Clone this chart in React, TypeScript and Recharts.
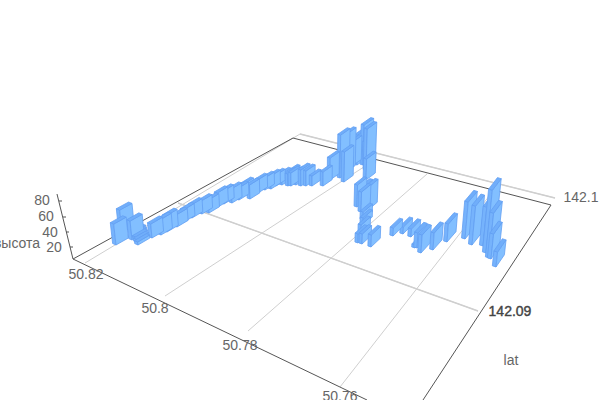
import React from "react";
import { ScatterChart, Scatter, XAxis, YAxis, ReferenceLine } from "recharts";

// Base corner position of each bar on the floor, and its height, in picture units.
const barX = [122,116,132,134,135,136,137,138,152,161,167,177,184,192,202,209,218,224,232,239,244,250,258,265,271,276,282,288,291,291,296,301,306,312,323,330,340,346,344,352,357,363,366,365,366,357,361,363,368,363,363,361,358,362,371,393,403,411,415,417,421,433,447,465,472,483,486,489,491,496];
const barBase = [232,245,240,235,237.5,240,242.5,245,238,235,232,227,222,218,214,213,207,204,203,200,196,199,193,190,189,186,185,186,181,186,185,186,186,186,186,180,178,172,182,166,165,165,170,165,180,207,212,205,210,220,225,233,243,244,247,236,234,237,248,248,253,250,242,239,245,246,253,258,259,267];
const barHeight = [22,21,19,3,3,3,3,3,14,15,16,12,12,13,13,13,14,13,14,12,12,14,13,12,13,11,11,12,10,13,12,16,15,10,14,22,43,38,30,24,30,40,41,23,21,22,20,18,23,8,7,8,9,10,12,8,7,8,3,15,18,17,18,37,39,39,63,45,25,15];

// Frame and grid of the floor
const darkEdges = [[73,259,293,138],[293,138,551,205],[551,205,423,400],[73,259,367,400],[57,194,73,259],[59,201,62,201],[63,217,66,217],[66,232,69,232],[70,247,73,247]];
const lightLines = [[85,263,300,134],[165,296,373,161],[248,331,427,174],[340,387,497,186],[178,203,478,311],[300,134,555,198]];
const heavyLines = [[178,203,478,311],[300,134,555,198]];

const labelText = ["80","60","40","20","высота","50.82","50.8","50.78","50.76","142.09","142.1","lat"];
const labelX = [42,46,50,54,17,86,155,240,340,510,581,511];
const labelY = [200,216,232,247,243,274,308,345,396,311,197,360];

const latVP = [763,-121];
const lonVP = [-737,-130];
const upVP = [310,2000];

type P = [number, number];
const toward = (p: P, vp: number[], d: number): P => {
  const dx = vp[0] - p[0];
  const dy = vp[1] - p[1];
  const l = Math.hypot(dx, dy);
  return [p[0] + (dx / l) * d, p[1] + (dy / l) * d];
};
const pts = (a: P[]) => a.map((p) => p.join(",")).join(" ");

const bars = barX
  .map((x, i) => ({ x, y: barBase[i], h: barHeight[i] }))
  .sort((a, b) => a.y - b.y);
const labels = labelText.map((t, i) => ({ x: labelX[i], y: labelY[i], t }));

const EDGE = "#639ff3";

const BarBox = (props: any) => {
  const { cx, cy, payload } = props;
  const F: P = [cx, cy];
  const dist = Math.hypot(cx - 293, cy - 138);
  const long = 10 + 0.02 * dist;
  const narrow = long * 0.26;
  const R = toward(F, latVP, long);
  const L = toward(F, lonVP, narrow);
  const B = toward(R, lonVP, narrow);
  const up = (p: P) => toward(p, upVP, -payload.h);
  const common = { stroke: EDGE, strokeWidth: 0.8, strokeLinejoin: "round" as const };
  return (
    <g>
      <polygon points={pts([L, F, up(F), up(L)])} fill="#76b3fc" {...common} />
      <polygon points={pts([F, R, up(R), up(F)])} fill="#82bfff" {...common} />
      <polygon points={pts([up(L), up(F), up(R), up(B)])} fill="#70aefa" {...common} />
    </g>
  );
};

const AxisLabel = (props: any) => {
  const { cx, cy, payload } = props;
  const heavy = payload.t === "142.09";
  return (
    <text
      x={cx}
      y={cy}
      textAnchor="middle"
      dominantBaseline="central"
      fontFamily="Liberation Sans, Arial, sans-serif"
      fontSize={14}
      fill={heavy ? "#444" : "#666"}
      stroke={heavy ? "#444" : "none"}
      strokeWidth={heavy ? 0.4 : 0}
    >
      {payload.t}
    </text>
  );
};

const seg = (l: number[]) =>
  [
    { x: l[0], y: l[1] },
    { x: l[2], y: l[3] },
  ] as any;

export default function App() {
  return (
    <div style={{ position: "absolute", left: 0, top: 0 }}>
      <ScatterChart width={600} height={400} margin={{ top: 0, right: 0, bottom: 0, left: 0 }}>
        <XAxis type="number" dataKey="x" domain={[0, 600]} hide />
        <YAxis type="number" dataKey="y" domain={[0, 400]} reversed hide />
        {lightLines.map((l, i) => (
          <ReferenceLine key={"g" + i} segment={seg(l)} stroke="#cfcfcf" strokeWidth={1} />
        ))}
        {heavyLines.map((l, i) => (
          <ReferenceLine key={"h" + i} segment={seg(l)} stroke="#cfcfcf" strokeWidth={1.4} />
        ))}
        {darkEdges.map((l, i) => (
          <ReferenceLine key={"d" + i} segment={seg(l)} stroke="#555" strokeWidth={1} />
        ))}
        <Scatter data={labels} shape={AxisLabel} isAnimationActive={false} />
        <Scatter data={bars} shape={BarBox} isAnimationActive={false} />
      </ScatterChart>
    </div>
  );
}
